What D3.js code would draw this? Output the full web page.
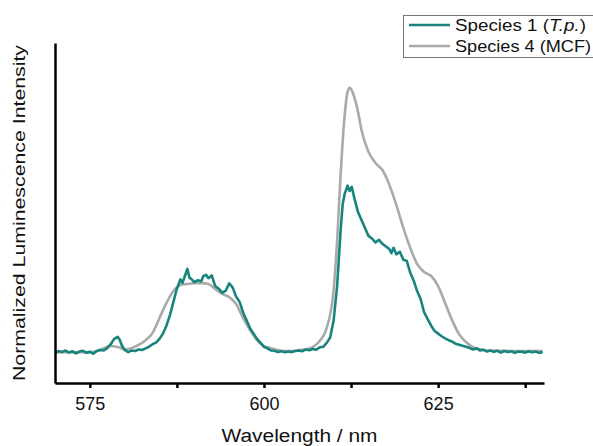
<!DOCTYPE html>
<html>
<head>
<meta charset="utf-8">
<script src="https://cdn.jsdelivr.net/npm/d3@7"></script>
<style>
  body { margin: 0; background: #fff; }
  svg { font-family: "Liberation Sans", Arial, sans-serif; }
</style>
</head>
<body>
<div id="chart"></div>
<script>
// Data (wavelength in nm, normalized intensity)
const mcfWavelength = [570, 571, 572, 573, 574, 575, 576, 577, 578, 579, 580, 581, 582, 583, 584, 585, 586, 587, 588, 589,
  590, 591, 592, 593, 594, 595, 596, 597, 598, 599, 600, 601, 602, 603, 604, 605, 606, 607, 608, 609,
  610, 610.5, 611, 611.5, 612, 612.3, 612.7, 613, 613.5, 614, 615, 616, 617, 618, 619, 620, 621, 622, 623, 624,
  625, 626, 627, 628, 629, 630, 631, 632, 634, 636, 638, 640];
const mcfIntensity = [0, 0, 0, 0, 0, 0, 0.004, 0.015, 0.023, 0.019, 0.011, 0.015, 0.027, 0.045, 0.072, 0.129, 0.186, 0.231, 0.254, 0.258,
  0.261, 0.261, 0.258, 0.239, 0.22, 0.208, 0.182, 0.129, 0.083, 0.045, 0.023, 0.015, 0.008, 0.004, 0.004, 0.008, 0.011, 0.019, 0.042, 0.091,
  0.235, 0.42, 0.67, 0.87, 0.985, 1.0, 0.985, 0.962, 0.91, 0.841, 0.758, 0.716, 0.689, 0.633, 0.557, 0.47, 0.394, 0.333, 0.303, 0.288,
  0.25, 0.186, 0.121, 0.068, 0.038, 0.019, 0.011, 0.006, 0.005, 0.004, 0.004, 0.004];

const tpWavelength = [570, 570.5, 571, 571.5, 572, 572.5, 573, 573.5, 574, 574.5, 575, 575.5, 576, 576.5, 577, 577.5, 578, 578.5, 579, 579.3,
  579.6, 580, 580.5, 581, 581.5, 582, 582.5, 583, 583.5, 584, 584.5, 585, 585.5, 586, 586.5, 587, 587.5, 588, 588.3, 588.7,
  589, 589.3, 589.6, 590, 590.5, 591, 591.3, 591.7, 592, 592.5, 593, 593.5, 594, 594.5, 595, 595.5, 596, 596.5, 597, 597.5,
  598, 598.5, 599, 599.5, 600, 600.5, 601, 601.5, 602, 602.5, 603, 603.5, 604, 604.5, 605, 605.5, 606, 606.5, 607, 607.5,
  608, 608.5, 609, 609.5, 610, 610.5, 611, 611.3, 611.6, 612, 612.3, 612.6, 613, 613.5, 614, 614.5, 615, 615.5, 616, 616.5,
  617, 617.5, 618, 618.3, 618.6, 619, 619.5, 620, 620.5, 621, 621.5, 622, 622.5, 623, 623.5, 624, 624.5, 625, 625.5, 626,
  626.5, 627, 627.5, 628, 628.5, 629, 629.5, 630, 630.5, 631, 631.5, 632, 632.5, 633, 633.5, 634, 634.5, 635, 635.5, 636,
  636.5, 637, 637.5, 638, 638.5, 639, 639.5, 640];
const tpIntensity = [-0.004, 0.004, 0, 0.006, -0.002, 0.003, -0.005, 0.002, 0.005, -0.003, 0.001, -0.006, 0.004, 0.008, 0.006, 0.015, 0.03, 0.05, 0.058, 0.046,
  0.025, 0.008, 0, 0.006, 0.004, 0.01, 0.008, 0.014, 0.02, 0.03, 0.036, 0.05, 0.07, 0.1, 0.14, 0.19, 0.24, 0.275, 0.262, 0.292,
  0.315, 0.282, 0.276, 0.265, 0.272, 0.268, 0.288, 0.292, 0.28, 0.29, 0.25, 0.24, 0.225, 0.232, 0.26, 0.245, 0.21, 0.19, 0.15, 0.12,
  0.09, 0.07, 0.05, 0.035, 0.02, 0.014, 0.006, 0.005, 0, 0.003, -0.001, 0.002, 0, 0.004, 0.006, 0.003, 0.01, 0.007, 0.012, 0.009,
  0.018, 0.02, 0.035, 0.055, 0.12, 0.25, 0.46, 0.56, 0.6, 0.63, 0.61, 0.625, 0.58, 0.53, 0.5, 0.47, 0.44, 0.43, 0.415, 0.425,
  0.41, 0.4, 0.39, 0.375, 0.395, 0.37, 0.38, 0.35, 0.345, 0.3, 0.27, 0.23, 0.2, 0.15, 0.125, 0.1, 0.08, 0.07, 0.06, 0.052,
  0.045, 0.04, 0.032, 0.028, 0.024, 0.02, 0.016, 0.01, 0.014, 0.006, 0.009, 0.002, 0.006, 0.001, 0.005, -0.002, 0.004, 0, 0.003, -0.003,
  0.002, 0.001, -0.002, 0.003, -0.001, 0.002, -0.003, 0];

const tickValues = [575, 587.5, 600, 612.5, 625, 637.5];
const tickLabels = ['575', '', '600', '', '625', ''];

// Colors
const teal = '#17847e';
const grey = '#aaaaaa';

// Layout
const width = 593;
const height = 446;
const plotLeft = 55;
const plotRight = 544;
const plotTop = 43;
const plotBottom = 383;

const x = d3.scaleLinear().domain([570, 640.2]).range([plotLeft, plotRight]);
const y = d3.scaleLinear().domain([-0.117, 1.17]).range([plotBottom, plotTop]);

const svg = d3.select('#chart').append('svg')
  .attr('width', width)
  .attr('height', height);

svg.append('clipPath')
  .attr('id', 'plot-clip')
  .append('rect')
  .attr('x', plotLeft)
  .attr('y', plotTop)
  .attr('width', plotRight - plotLeft)
  .attr('height', plotBottom - plotTop);

const line = d3.line()
  .x(d => x(d[0]))
  .y(d => y(d[1]));

const mcfData = mcfWavelength.map((w, i) => [w, mcfIntensity[i]]);
const tpData = tpWavelength.map((w, i) => [w, tpIntensity[i]]);

const lines = svg.append('g')
  .attr('clip-path', 'url(#plot-clip)')
  .attr('fill', 'none')
  .attr('stroke-linejoin', 'round');

lines.append('path')
  .attr('d', d3.line().curve(d3.curveMonotoneX).x(d => x(d[0])).y(d => y(d[1]))(mcfData))
  .attr('stroke', grey)
  .attr('stroke-width', 2.6);

lines.append('path')
  .attr('d', line(tpData))
  .attr('stroke', teal)
  .attr('stroke-width', 2.6);

// Axes
const xAxis = svg.append('g')
  .attr('transform', `translate(0,${plotBottom})`)
  .call(d3.axisBottom(x)
    .tickValues(tickValues)
    .tickFormat((d, i) => tickLabels[i])
    .tickSize(5)
    .tickSizeOuter(0)
    .tickPadding(9));
xAxis.select('.domain')
  .attr('stroke', '#000')
  .attr('stroke-width', 2.5);
xAxis.selectAll('.tick line')
  .attr('stroke', '#000')
  .attr('stroke-width', 2.5);
xAxis.selectAll('.tick text')
  .attr('fill', '#111')
  .style('font-size', '18px')
  .style('font-family', '"Liberation Sans", Arial, sans-serif');

const yAxis = svg.append('g')
  .attr('transform', `translate(${plotLeft},0)`)
  .call(d3.axisLeft(y).tickValues([]).tickSizeOuter(0));
yAxis.select('.domain')
  .attr('stroke', '#000')
  .attr('stroke-width', 2.5);

// Axis titles
svg.append('text')
  .attr('x', (plotLeft + plotRight) / 2)
  .attr('y', 442)
  .attr('text-anchor', 'middle')
  .attr('fill', '#111')
  .attr('textLength', 156)
  .attr('lengthAdjust', 'spacingAndGlyphs')
  .style('font-size', '18px')
  .text('Wavelength / nm');

svg.append('text')
  .attr('transform', `translate(25,${(plotTop + plotBottom) / 2}) rotate(-90)`)
  .attr('text-anchor', 'middle')
  .attr('fill', '#111')
  .attr('textLength', 336)
  .attr('lengthAdjust', 'spacingAndGlyphs')
  .style('font-size', '17px')
  .text('Normalized Luminescence Intensity');

// Legend
const legend = svg.append('g');
legend.append('rect')
  .attr('x', 403.5)
  .attr('y', 15.5)
  .attr('width', 200)
  .attr('height', 42)
  .attr('fill', '#fff')
  .attr('stroke', '#777')
  .attr('stroke-width', 1);

const legendItems = [
  {color: teal, y: 25},
  {color: grey, y: 46}
];
legendItems.forEach(item => {
  legend.append('line')
    .attr('x1', 409)
    .attr('x2', 450)
    .attr('y1', item.y)
    .attr('y2', item.y)
    .attr('stroke', item.color)
    .attr('stroke-width', 2.6);
});

const t1 = legend.append('text')
  .attr('transform', 'translate(455,31) scale(1.14,1)')
  .attr('fill', '#111')
  .style('font-size', '16.5px');
t1.append('tspan').text('Species 1 (');
t1.append('tspan').style('font-style', 'italic').text('T.p.');
t1.append('tspan').text(')');

legend.append('text')
  .attr('x', 455)
  .attr('y', 52)
  .attr('fill', '#111')
  .attr('textLength', 136)
  .attr('lengthAdjust', 'spacingAndGlyphs')
  .style('font-size', '16.5px')
  .text('Species 4 (MCF)');
</script>
</body>
</html>
